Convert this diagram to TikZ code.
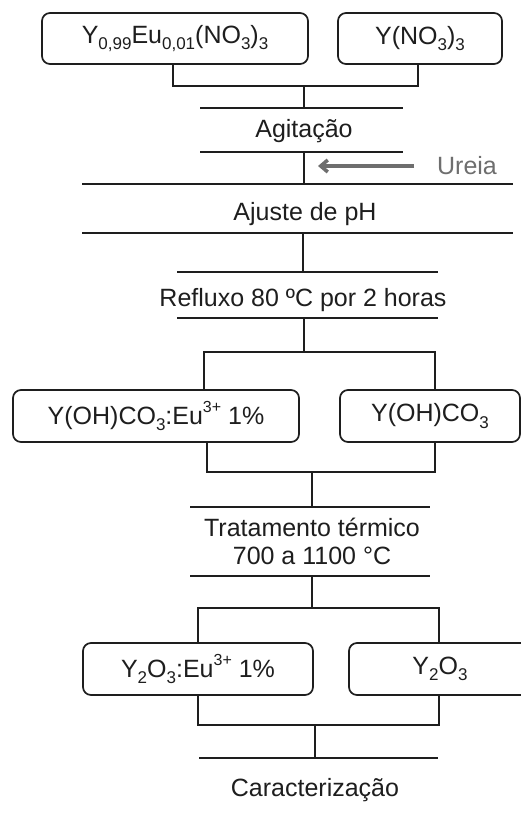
\documentclass[tikz,border=0pt]{standalone}
\usepackage{fontspec}
\setmainfont{Liberation Sans}
\usetikzlibrary{arrows.meta}
\newcommand{\chsub}[1]{\raisebox{-0.25em}{\fontsize{17}{17}\selectfont #1}}
\newcommand{\chsup}[1]{\raisebox{0.45em}{\fontsize{16}{16}\selectfont #1}}
\definecolor{ink}{HTML}{1E1E1E}
\definecolor{grayink}{HTML}{6E6E6E}
\begin{document}
\begin{tikzpicture}[x=1pt,y=-1pt,
  every node/.style={font=\fontsize{25}{30}\selectfont, text=ink},
  box/.style={draw=ink, line width=1.7pt, rounded corners=8pt, inner sep=0pt},
  lbl/.style={inner sep=0pt, align=center},
  ln/.style={draw=ink, line width=1.7pt}]
\useasboundingbox (0,0) rectangle (521,814);
\clip (0,0) rectangle (521,814);
\fill[white] (0,0) rectangle (521,814);

% boxes
\node[box, minimum width=266pt, minimum height=51pt] (b1) at (175,38.5) {Y\chsub{0,99}Eu\chsub{0,01}(NO\chsub{3})\chsub{3}};
\node[box, minimum width=164pt, minimum height=51pt] (b2) at (420,38.5) {Y(NO\chsub{3})\chsub{3}};
\node[box, minimum width=286pt, minimum height=52pt] (b3) at (156,416) {Y(OH)CO\chsub{3}:Eu\chsup{3+} 1\%};
\node[box, minimum width=180pt, minimum height=52pt] (b4) at (430,416) {Y(OH)CO\chsub{3}};
\node[box, minimum width=230pt, minimum height=52pt] (b5) at (198,669) {Y\chsub{2}O\chsub{3}:Eu\chsup{3+} 1\%};
\node[box, minimum width=182pt, minimum height=52pt] (b6) at (440,669) {Y\chsub{2}O\chsub{3}};

% step labels
\node[lbl] (agit) at (304,131) {Agitação};
\node[lbl, text=grayink] (ureia) at (467,166) {Ureia};
\node[lbl] (ajus) at (305,214) {Ajuste de pH};
\node[lbl] (refl) at (303,300) {Refluxo 80 ºC por 2 horas};
\node[lbl] (trat) at (312,541) {Tratamento térmico\\[-2pt]700 a 1100 °C};
\node[lbl] (carac) at (315,790) {Caracterização};

% coordinates
\coordinate (j1) at (304,86);
\coordinate (a1L) at (200,108); \coordinate (a1R) at (403,108);
\coordinate (a2L) at (200,152); \coordinate (a2R) at (403,152);
\coordinate (p1L) at (82,184);  \coordinate (p1R) at (513,184);
\coordinate (p2L) at (82,233);  \coordinate (p2R) at (513,233);
\coordinate (r1L) at (177,272); \coordinate (r1R) at (438,272);
\coordinate (r2L) at (177,318); \coordinate (r2R) at (438,318);
\coordinate (j2L) at (204,352); \coordinate (j2R) at (435,352);
\coordinate (j3L) at (207,472); \coordinate (j3R) at (435,472);
\coordinate (t1L) at (190,507); \coordinate (t1R) at (430,507);
\coordinate (t2L) at (190,576); \coordinate (t2R) at (430,576);
\coordinate (j4L) at (198,608); \coordinate (j4R) at (439,608);
\coordinate (j5L) at (198,725); \coordinate (j5R) at (439,725);
\coordinate (c1L) at (199,758); \coordinate (c1R) at (438,758);
\coordinate (arS) at (414,166); \coordinate (arE) at (318,166);

% horizontal rules
\path[ln] (a1L) -- (a1R);
\path[ln] (a2L) -- (a2R);
\path[ln] (p1L) -- (p1R);
\path[ln] (p2L) -- (p2R);
\path[ln] (r1L) -- (r1R);
\path[ln] (r2L) -- (r2R);
\path[ln] (t1L) -- (t1R);
\path[ln] (t2L) -- (t2R);
\path[ln] (c1L) -- (c1R);

% connectors
\path[ln] (b1.south -| 173,0) |- (j1) -| (b2.south -| 418,0);
\path[ln] (j1) -- (j1 |- a1L);
\path[ln] (304,152) -- (304,184);
\path[ln] (303,233) -- (303,272);
\path[ln] (304,318) -- (304,352);
\path[ln] (b3.north -| j2L) -- (j2L) -- (j2R) -- (b4.north -| j2R);
\path[ln] (b3.south -| j3L) -- (j3L) -- (j3R) -- (b4.south -| j3R);
\path[ln] (312,472) -- (312,507);
\path[ln] (312,576) -- (312,608);
\path[ln] (b5.north -| j4L) -- (j4L) -- (j4R) -- (b6.north -| j4R);
\path[ln] (b5.south -| j5L) -- (j5L) -- (j5R) -- (b6.south -| j5R);
\path[ln] (315,725) -- (315,758);

% arrow
\draw[draw=grayink, line width=3.6pt, -{Straight Barb[length=7pt,width=12pt]}] (arS) -- (arE);
\end{tikzpicture}
\end{document}
